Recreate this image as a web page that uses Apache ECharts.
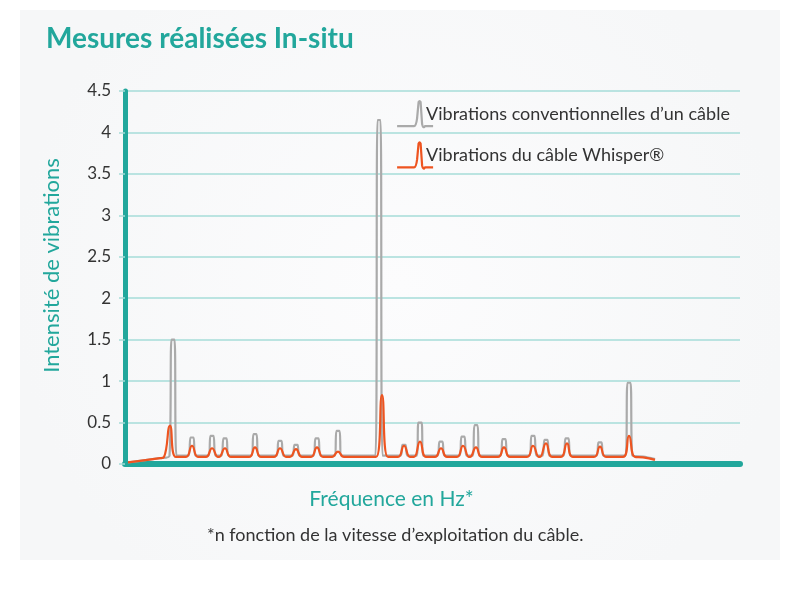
<!DOCTYPE html>
<html>
<head>
<meta charset="utf-8">
<script src="https://cdn.jsdelivr.net/npm/echarts@6/dist/echarts.min.js"></script>
<style>
  html, body { margin: 0; padding: 0; background: #fff; }
  #main { width: 800px; height: 600px; }
</style>
</head>
<body>
<div id="main"></div>
<script>
// peak positions on the (unlabelled) frequency axis, 0..615
const grayPeakX = [48, 67, 87, 100, 130, 155, 171, 192, 213, 254, 279, 295, 316, 338, 351, 379, 408, 421, 442, 475, 504];
const grayPeakY = [1.5, 0.32, 0.34, 0.31, 0.36, 0.28, 0.23, 0.31, 0.4, 4.15, 0.23, 0.5, 0.27, 0.33, 0.47, 0.3, 0.34, 0.29, 0.31, 0.26, 0.98];
const orangePeakX = [45, 67, 87, 100, 130, 155, 171, 192, 213, 257, 279, 295, 316, 338, 351, 379, 408, 421, 442, 475, 504];
const orangePeakY = [0.46, 0.22, 0.19, 0.19, 0.2, 0.19, 0.18, 0.2, 0.15, 0.83, 0.22, 0.27, 0.19, 0.22, 0.2, 0.2, 0.22, 0.25, 0.25, 0.21, 0.34];
const grayBase = 0.1;
const orangeBase = 0.085;
const leadIn = [[3, 0.02], [35, 0.07]];
const grayLeadOut = [[518, 0.09], [530, 0.06]];
const orangeLeadOut = [[518, 0.08], [530, 0.05]];
const yTicks = ['0', '0.5', '1', '1.5', '2', '2.5', '3', '3.5', '4', '4.5'];

const teal = '#22a79c';
const spikeIcon = 'path://M0,26 L17,26 Q19,26 20,18 L21.5,2 Q22.5,0 23.5,2 L25,24 Q26,29 28,26 L36,26';

function gray(xs, ys) {
    let pts = leadIn.slice();
    xs.forEach((x, i) => {
        pts.push([x - 3.5, grayBase], [x - 1.5, ys[i]], [x + 1.5, ys[i]], [x + 3.5, grayBase]);
    });
    return pts.concat(grayLeadOut);
}
function orange(xs, ys) {
    let pts = leadIn.slice();
    xs.forEach((x, i) => {
        pts.push([x - 6, orangeBase], [x, ys[i]], [x + 6, orangeBase]);
    });
    return pts.concat(orangeLeadOut);
}

let myChart = echarts.init(document.getElementById('main'));
myChart.setOption({
    backgroundColor: '#fff',
    textStyle: { fontFamily: 'Lato' },
    graphic: [{
        type: 'rect', z: -10, silent: true,
        shape: { x: 20, y: 10, width: 760, height: 550 },
        style: {
            fill: new echarts.graphic.RadialGradient(0.5, 0.5, 0.7, [
                { offset: 0, color: '#fcfcfd' },
                { offset: 1, color: '#f6f7f8' }
            ])
        }
    }],
    title: [{
        text: 'Mesures réalisées In-situ',
        left: 41, top: 20,
        textStyle: { color: teal, fontSize: 28, fontWeight: 'bold', fontFamily: 'Lato' }
    }, {
        text: '*n fonction de la vitesse d\u2019exploitation du câble.',
        left: 202, top: 521,
        textStyle: { color: '#333', fontSize: 18, fontWeight: 'normal', fontFamily: 'Lato' }
    }],
    legend: {
        orient: 'vertical',
        left: 391, top: 95,
        itemWidth: 36, itemHeight: 29, itemGap: 13,
        textStyle: { color: '#333', fontSize: 18, padding: [0, 0, 0, -12] },
        data: [{
            name: 'Vibrations conventionnelles d\u2019un câble',
            icon: spikeIcon,
            itemStyle: { color: 'rgba(0,0,0,0)', borderColor: '#aaaaaa', borderWidth: 2.2 }
        }, {
            name: 'Vibrations du câble Whisper®',
            icon: spikeIcon,
            itemStyle: { color: 'rgba(0,0,0,0)', borderColor: '#ee5420', borderWidth: 2.2 }
        }]
    },
    grid: { left: 125, right: 60, top: 91, bottom: 136 },
    xAxis: {
        type: 'value', min: 0, max: 615,
        name: 'Fréquence en Hz*',
        nameLocation: 'middle', nameGap: 25,
        nameTextStyle: { color: teal, fontSize: 21, padding: [0, 82, 0, 0] },
        axisLine: { lineStyle: { color: teal, width: 6, cap: 'round' } },
        axisTick: { show: false },
        axisLabel: { show: false },
        splitLine: { show: false }
    },
    yAxis: {
        type: 'value', min: 0, max: 4.5, interval: 0.5,
        name: 'Intensité de vibrations',
        nameLocation: 'middle', nameGap: 62,
        nameTextStyle: { color: teal, fontSize: 22, padding: [0, 0, 0, 24] },
        axisLine: { show: true, lineStyle: { color: teal, width: 5, cap: 'round' } },
        axisTick: { show: true, length: 6, lineStyle: { color: '#a6dcd8', width: 1.5 } },
        axisLabel: {
            color: '#333', fontSize: 17, margin: 14,
            formatter: v => yTicks[Math.round(v * 2)]
        },
        splitLine: { lineStyle: { color: '#a6dcd8', width: 1.5 } }
    },
    series: [{
        name: 'Vibrations conventionnelles d\u2019un câble',
        type: 'line',
        data: gray(grayPeakX, grayPeakY),
        showSymbol: false,
        smooth: 0.3,
        lineStyle: { color: '#aaaaaa', width: 2.2 },
        itemStyle: { color: '#aaaaaa' },
        z: 2
    }, {
        name: 'Vibrations du câble Whisper®',
        type: 'line',
        data: orange(orangePeakX, orangePeakY),
        showSymbol: false,
        smooth: 0.5,
        lineStyle: { color: '#ee5420', width: 2.2 },
        itemStyle: { color: '#ee5420' },
        z: 3
    }]
});
</script>
</body>
</html>
